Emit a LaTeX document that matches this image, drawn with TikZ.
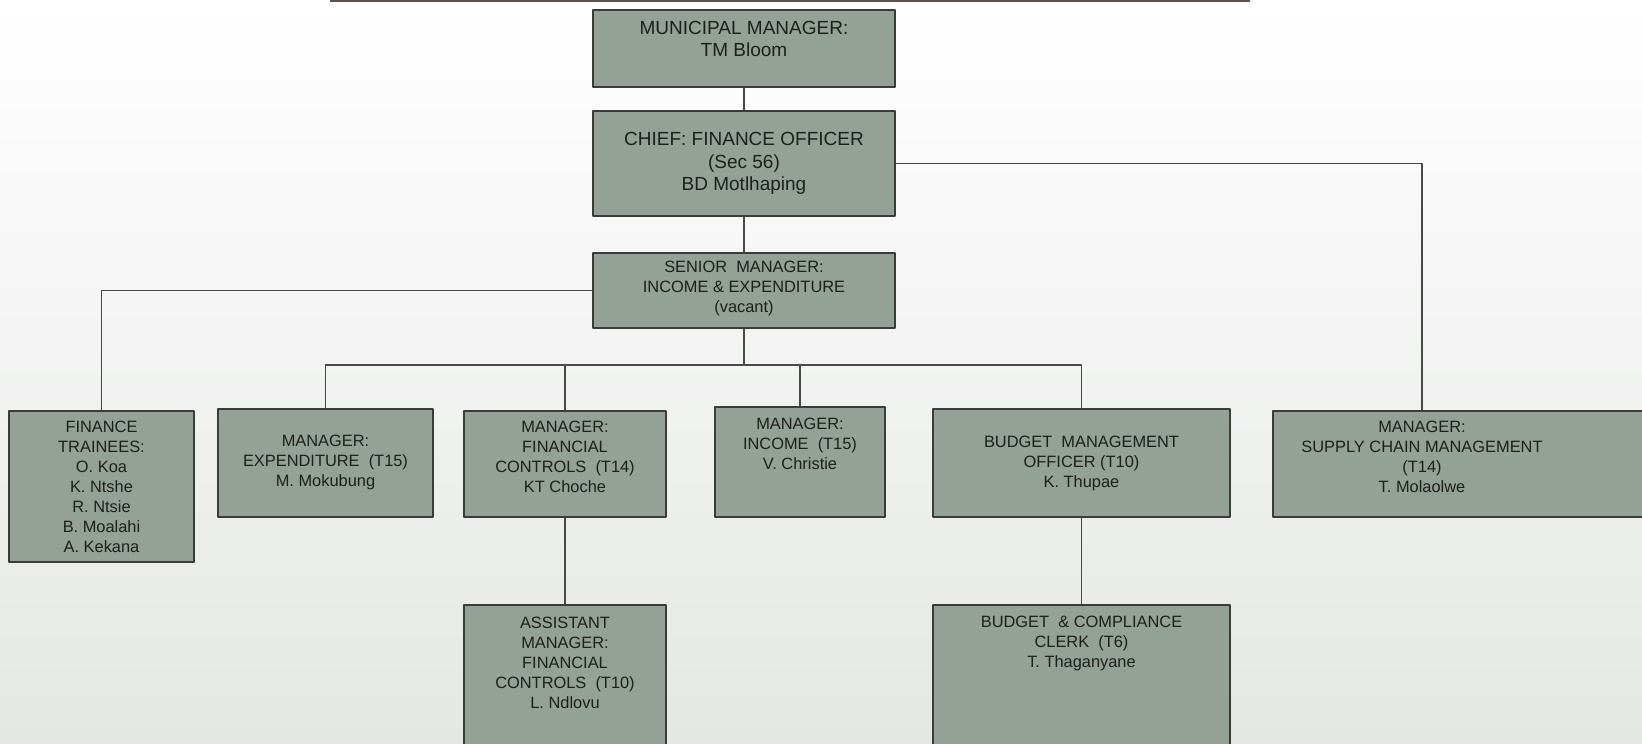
\documentclass[tikz,border=0pt]{standalone}
\usepackage{fontspec}
\setmainfont{Liberation Sans}
\definecolor{boxfill}{RGB}{147,161,150}
\definecolor{boxline}{RGB}{58,60,58}
\definecolor{edgecol}{RGB}{72,74,72}
\definecolor{inkcol}{RGB}{30,32,30}
\definecolor{bgbottom}{RGB}{228,231,228}
\definecolor{topcol}{RGB}{92,82,76}
\begin{document}
\begin{tikzpicture}[line join=bevel,
  box/.style={draw=boxline, fill=boxfill, line width=0.8bp, inner sep=0pt},
  lbl/.style={align=center, inner sep=0pt, text=inkcol, font=\fontsize{8.2bp}{10bp}\selectfont},
  lblbig/.style={lbl, font=\fontsize{9.5bp}{11.2bp}\selectfont},
  edge/.style={draw=edgecol, line width=0.7bp}]
  \useasboundingbox (0bp,0bp) rectangle (821bp,372bp);
  \shade [top color=white, bottom color=bgbottom] (0bp,0bp) rectangle (821bp,372bp);
  \clip (0bp,0bp) rectangle (821bp,372bp);
  \draw [topcol, line width=1.2bp] (165bp,371.6bp) -- (625bp,371.6bp);
%%
  % Node: MUNICIPAL MANAGER
\begin{scope}
  \node [box, minimum width=151bp, minimum height=38.5bp] (mm) at (372bp,347.75bp) {};
  \node [lblbig] (mm-t) at (372bp,352.5bp) {MUNICIPAL MANAGER:\\TM Bloom};
\end{scope}
  % Node: CHIEF FINANCE OFFICER
\begin{scope}
  \node [box, minimum width=151bp, minimum height=52.5bp] (cfo) at (372bp,290.25bp) {};
  \node [lblbig] (cfo-t) at (372bp,290.25bp) {CHIEF: FINANCE OFFICER\\(Sec 56)\\BD Motlhaping};
\end{scope}
  % Node: SENIOR MANAGER
\begin{scope}
  \node [box, minimum width=151bp, minimum height=37.5bp] (sm) at (372bp,226.75bp) {};
  \node [lbl] (sm-t) at (372bp,228bp) {SENIOR~ MANAGER:\\INCOME \& EXPENDITURE\\(vacant)};
\end{scope}
  % Node: FINANCE TRAINEES
\begin{scope}
  \node [box, minimum width=92.5bp, minimum height=75.5bp] (ft) at (50.75bp,128.75bp) {};
  \node [lbl] (ft-t) at (50.75bp,128.5bp) {FINANCE\\TRAINEES:\\O. Koa\\K. Ntshe\\R. Ntsie\\B. Moalahi\\A. Kekana};
\end{scope}
  % Node: MANAGER EXPENDITURE
\begin{scope}
  \node [box, minimum width=107.5bp, minimum height=54bp] (me) at (162.75bp,140.5bp) {};
  \node [lbl] (me-t) at (162.75bp,140.75bp) {MANAGER:\\EXPENDITURE~ (T15)\\M. Mokubung};
\end{scope}
  % Node: MANAGER FINANCIAL CONTROLS
\begin{scope}
  \node [box, minimum width=101bp, minimum height=53bp] (mfc) at (282.5bp,140bp) {};
  \node [lbl] (mfc-t) at (282.5bp,143.5bp) {MANAGER:\\FINANCIAL\\CONTROLS~ (T14)\\KT Choche};
\end{scope}
  % Node: MANAGER INCOME
\begin{scope}
  \node [box, minimum width=85bp, minimum height=55bp] (mi) at (400bp,141bp) {};
  \node [lbl] (mi-t) at (400bp,150bp) {MANAGER:\\INCOME~ (T15)\\V. Christie};
\end{scope}
  % Node: BUDGET MANAGEMENT OFFICER
\begin{scope}
  \node [box, minimum width=148.5bp, minimum height=54bp] (bmo) at (540.75bp,140.5bp) {};
  \node [lbl] (bmo-t) at (540.75bp,140.5bp) {BUDGET~ MANAGEMENT\\OFFICER (T10)\\K. Thupae};
\end{scope}
  % Node: MANAGER SUPPLY CHAIN MANAGEMENT
\begin{scope}
  \node [box, minimum width=193.5bp, minimum height=53bp] (scm) at (733.25bp,140bp) {};
  \node [lbl] (scm-t) at (711bp,143.5bp) {MANAGER:\\SUPPLY CHAIN MANAGEMENT\\(T14)\\T. Molaolwe};
\end{scope}
  % Node: ASSISTANT MANAGER FINANCIAL CONTROLS
\begin{scope}
  \node [box, minimum width=101bp, minimum height=74.5bp] (amfc) at (282.5bp,32.25bp) {};
  \node [lbl] (amfc-t) at (282.5bp,40.5bp) {ASSISTANT\\MANAGER:\\FINANCIAL\\CONTROLS~ (T10)\\L. Ndlovu};
\end{scope}
  % Node: BUDGET COMPLIANCE CLERK
\begin{scope}
  \node [box, minimum width=148.5bp, minimum height=74.5bp] (bcc) at (540.75bp,32.25bp) {};
  \node [lbl] (bcc-t) at (540.75bp,50.5bp) {BUDGET~ \& COMPLIANCE\\CLERK~ (T6)\\T. Thaganyane};
\end{scope}
%%
  \coordinate (bus) at (372bp,189.5bp);
  % Edge: mm -> cfo
  \draw [edge] (mm.south) -- (cfo.north);
  % Edge: cfo -> sm
  \draw [edge] (cfo.south) -- (sm.north);
  % Edge: cfo -> scm
  \draw [edge] (cfo.east) -| (scm.north -| scm-t);
  % Edge: sm -> ft
  \draw [edge] (sm.west) -| (ft.north);
  % Edge: sm -> me, mfc, mi, bmo
  \draw [edge] (sm.south) -- (bus);
  \draw [edge] (me.north) |- (bus) -| (bmo.north);
  \draw [edge] (mfc.north) -- (mfc.north |- bus);
  \draw [edge] (mi.north) -- (mi.north |- bus);
  % Edge: mfc -> amfc
  \draw [edge] (mfc.south) -- (amfc.north);
  % Edge: bmo -> bcc
  \draw [edge] (bmo.south) -- (bcc.north);
%
\end{tikzpicture}
\end{document}
